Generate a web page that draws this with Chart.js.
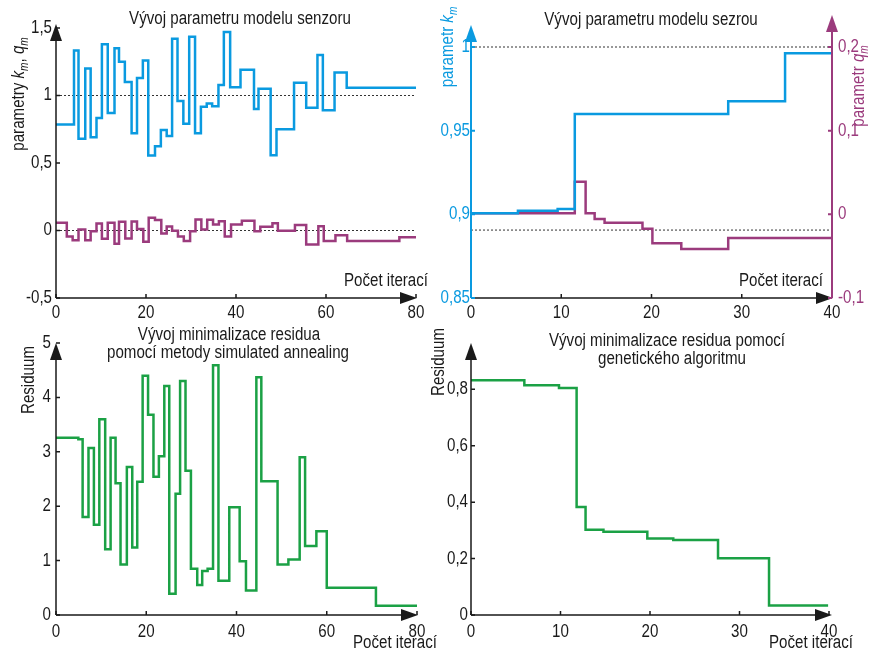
<!DOCTYPE html>
<html lang="cs">
<head>
<meta charset="UTF-8">
<title>Vývoj parametrů modelu a residua</title>
<script src="https://cdn.jsdelivr.net/npm/chart.js"></script>
<style>
  body { margin: 0; background: #fff; }
  .wrap { position: relative; width: 870px; height: 654px; }
  canvas { position: absolute; left: 0; top: 0; }
</style>
</head>
<body>
<div class="wrap">
  <canvas id="c1" width="870" height="654"></canvas>
  <canvas id="c2" width="870" height="654"></canvas>
  <canvas id="c3" width="870" height="654"></canvas>
  <canvas id="c4" width="870" height="654"></canvas>
</div>
<script>
// --- data (iteration where a step starts, value held until next) ---
const senzorKIter = [0, 4, 5, 6.5, 7.7, 9, 10.2, 11.5, 13, 14, 15.3, 16.8, 18, 19.3, 20.5, 22, 23.3, 24.6, 25.8, 27,
  28.3, 29.6, 30.9, 32.2, 33.5, 34.7, 36.1, 37.3, 38.7, 41, 44, 45, 47.7, 49, 52.9, 55.6, 58.1, 59.3, 61.9, 64.6, 80];
const senzorK = [0.785, 1.334, 0.68, 1.2, 0.69, 0.834, 1.38, 0.87, 1.35, 1.25, 1.1, 0.72, 1.13, 1.26, 0.555, 0.624, 0.745, 0.70, 1.42, 0.96,
  0.79, 1.435, 0.72, 0.916, 0.94, 0.92, 1.077, 1.47, 1.062, 1.19, 0.9, 1.05, 0.557, 0.75, 1.094, 0.91, 1.3, 0.89, 1.17, 1.057, 1.057];
const senzorQIter = [0, 2.4, 3.7, 5, 6.5, 7.7, 9, 10.2, 11.5, 13, 14, 15.4, 16.8, 18, 19.4, 20.6, 22, 23.4, 24.6, 25.8,
  27.1, 28.4, 29.8, 31, 32.3, 33.6, 34.9, 36.2, 37.5, 38.9, 41.3, 44.1, 45.4, 48.1, 49.3, 53.1, 55.6, 58.3, 59.5, 62.1, 64.7, 76.3, 80];
const senzorQ = [0.057, -0.045, -0.072, 0.007, -0.072, -0.005, 0.052, -0.062, 0.057, -0.099, 0.064, -0.06, 0.067, 0.012, -0.084, 0.094, 0.077, -0.022, 0.03, -0.002,
  -0.045, -0.077, -0.005, 0.082, 0.007, 0.079, 0.045, 0.069, -0.045, 0.045, 0.072, -0.005, 0.027, 0.054, -0.002, 0.04, -0.104, 0.032, -0.077, -0.035, -0.077, -0.05, -0.05];
const senzorRef = [1, 0];

const sezrouKIter = [0, 5.2, 9.6, 11.5, 28.5, 34.8, 40];
const sezrouK = [0.9006, 0.9022, 0.9032, 0.960, 0.9676, 0.9962, 0.9962];
const sezrouQIter = [0, 11.5, 12.7, 13.7, 14.8, 19, 20.1, 23.3, 28.5, 40];
const sezrouQ = [0.0012, 0.039, 0.0012, -0.0056, -0.010, -0.0172, -0.0346, -0.0414, -0.0283, -0.0283];
const sezrouRef = [1, 0.8906];

const saIter = [0, 4.95, 5.9, 7.2, 8.4, 9.6, 10.9, 12.1, 13.2, 14.3, 15.7, 16.9, 18.0, 19.2, 20.4, 21.6, 22.8, 24.0, 25.1, 26.5,
  27.5, 28.7, 29.9, 31.3, 32.4, 33.6, 34.8, 36.0, 38.4, 40.7, 42.1, 44.4, 45.5, 49.1, 51.5, 54.0, 55.2, 57.7, 60.0, 70.9, 80];
const saRes = [3.26, 3.23, 1.80, 3.07, 1.66, 3.60, 1.21, 3.26, 2.42, 0.93, 2.72, 1.24, 2.45, 4.40, 3.68, 2.54, 2.92, 4.21, 0.39, 2.23,
  4.30, 2.65, 0.85, 0.55, 0.81, 0.85, 4.59, 0.63, 1.98, 0.99, 0.45, 4.37, 2.46, 0.93, 1.02, 2.90, 1.27, 1.54, 0.50, 0.17, 0.17];

const gaIter = [0, 5.96, 9.83, 11.8, 12.8, 14.8, 19.7, 22.6, 27.6, 33.3, 39.9];
const gaRes = [0.832, 0.814, 0.805, 0.383, 0.302, 0.295, 0.271, 0.266, 0.201, 0.034, 0.034];

// tick values
const ticksX80 = [0, 20, 40, 60, 80];
const ticksX40 = [0, 10, 20, 30, 40];
const ticksSenzor = [-0.5, 0, 0.5, 1, 1.5];
const ticksSezrouK = [0.85, 0.9, 0.95, 1];
const ticksSezrouQ = [-0.1, 0, 0.1, 0.2];
const ticksSA = [0, 1, 2, 3, 4, 5];
const ticksGA = [0, 0.2, 0.4, 0.6, 0.8];

// --- styling ---
const W = 870, H = 654;
const FONT = '"Liberation Sans", Arial, sans-serif';
const INK = '#1a1a1a', BLUE = '#0a9ae0', MAGENTA = '#9b3b7d', GREEN = '#1ba145';
const FS = 18, NARROW = 0.84;

function steps(xs, ys) { return xs.map((x, i) => ({ x: x, y: ys[i] })); }
function flat(y, max) { return [{ x: 0, y: y }, { x: max, y: y }]; }
function comma(v) { return String(v).replace('.', ','); }
function fixTicks(list) { return s => { s.ticks = list.map(v => ({ value: v })); }; }

function line(data, color, axis) {
  return { data: data, borderColor: color, borderWidth: 2.5, stepped: true, pointRadius: 0, fill: false, yAxisID: axis || 'y' };
}
function dotted(data, axis) {
  return { data: data, borderColor: '#333', borderWidth: 1, borderDash: [2, 2], pointRadius: 0, fill: false, clip: false, yAxisID: axis || 'y' };
}

// tick labels are painted by the decor plugin (narrow lettering), so scales only place things
function xScale(max, ticks) {
  return {
    type: 'linear', min: 0, max: max, afterBuildTicks: fixTicks(ticks),
    grid: { display: false, drawTicks: false }, border: { display: false }, ticks: { display: false },
    afterFit: s => { s.height = 40; }
  };
}
function yScale(min, max, ticks, pos, width) {
  return {
    type: 'linear', position: pos, min: min, max: max, afterBuildTicks: fixTicks(ticks),
    grid: { display: false, drawTicks: false }, border: { display: false }, ticks: { display: false },
    afterFit: s => { s.width = width; }
  };
}

function arrow(ctx, x, y, dir) {
  ctx.beginPath();
  if (dir === 'up') { ctx.moveTo(x, y); ctx.lineTo(x - 6, y + 17); ctx.lineTo(x + 6, y + 17); }
  else { ctx.moveTo(x, y); ctx.lineTo(x - 17, y - 6); ctx.lineTo(x - 17, y + 6); }
  ctx.closePath();
  ctx.fill();
}

// text in narrow lettering, optional italic / subscript pieces, optional rotation
function drawRich(ctx, t) {
  const size = t.size || FS;
  const fontOf = p => (p.it ? 'italic ' : '') + Math.round(p.sub ? size * 0.65 : size) + 'px ' + FONT;
  const parts = t.parts || [{ t: t.text }];
  let w = 0;
  parts.forEach(p => { ctx.font = fontOf(p); w += ctx.measureText(p.t).width; });
  const align = t.align || 'center';
  let x = align === 'center' ? -w / 2 : (align === 'right' ? -w : 0);
  ctx.save();
  ctx.translate(t.x, t.y);
  if (t.rot) ctx.rotate(t.rot);
  ctx.scale(NARROW, 1);
  ctx.fillStyle = t.color || INK;
  ctx.textBaseline = 'middle';
  ctx.textAlign = 'left';
  parts.forEach(p => {
    ctx.font = fontOf(p);
    ctx.fillText(p.t, x, p.sub ? size * 0.3 : 0);
    x += ctx.measureText(p.t).width;
  });
  ctx.restore();
}

// axes with arrows, inward tick marks, tick labels and free texts
const decor = {
  id: 'decor',
  afterDraw(chart, args, o) {
    const ctx = chart.ctx, a = chart.chartArea;
    ctx.save();
    o.axes.forEach(ax => {
      const sc = chart.scales[ax.scale];
      const lc = ax.labelColor || INK;
      ctx.strokeStyle = ax.color; ctx.fillStyle = ax.color; ctx.lineWidth = ax.width || 1.5;
      ctx.beginPath();
      if (ax.scale === 'x') {
        ctx.moveTo(a.left, a.bottom); ctx.lineTo(ax.tip - 10, a.bottom);
        sc.ticks.forEach(t => { const p = sc.getPixelForValue(t.value); ctx.moveTo(p, a.bottom); ctx.lineTo(p, a.bottom - 4); });
        ctx.stroke();
        arrow(ctx, ax.tip, a.bottom, 'right');
        sc.ticks.forEach(t => drawRich(ctx, { text: comma(t.value), x: sc.getPixelForValue(t.value), y: a.bottom + ax.labelDy, color: lc }));
      } else {
        const right = ax.side === 'right';
        const x = right ? a.right : a.left;
        const d = right ? -4 : 4;
        ctx.moveTo(x, a.bottom); ctx.lineTo(x, ax.tip + 10);
        sc.ticks.forEach(t => { const p = sc.getPixelForValue(t.value); ctx.moveTo(x, p); ctx.lineTo(x + d, p); });
        ctx.stroke();
        arrow(ctx, x, ax.tip, 'up');
        sc.ticks.forEach(t => drawRich(ctx, {
          text: comma(t.value), x: right ? x + ax.pad : x - ax.pad, y: sc.getPixelForValue(t.value),
          align: right ? 'left' : 'right', color: lc
        }));
      }
    });
    o.texts.forEach(t => drawRich(ctx, t));
    ctx.restore();
  }
};

function makeChart(id, area, yW, rW, datasets, scales, deco) {
  return new Chart(document.getElementById(id), {
    type: 'line',
    data: { datasets: datasets },
    options: {
      responsive: false, animation: false, devicePixelRatio: 1,
      layout: { padding: { left: area.l - yW, top: area.t, right: W - area.r - rW, bottom: H - area.b - 40 } },
      plugins: { legend: { display: false }, tooltip: { enabled: false }, decor: deco },
      scales: scales
    },
    plugins: [decor]
  });
}

const UP = -Math.PI / 2;

// 1) Vývoj parametru modelu senzoru
makeChart('c1', { l: 56, t: 28, r: 416, b: 298 }, 50, 0,
  [line(steps(senzorKIter, senzorK), BLUE), line(steps(senzorQIter, senzorQ), MAGENTA),
   dotted(flat(senzorRef[0], 80)), dotted(flat(senzorRef[1], 80))],
  { x: xScale(80, ticksX80), y: yScale(-0.5, 1.5, ticksSenzor, 'left', 50) },
  {
    axes: [{ scale: 'x', tip: 417, color: INK, labelDy: 15 }, { scale: 'y', tip: 24, color: INK, pad: 4 }],
    texts: [
      { text: 'Vývoj parametru modelu senzoru', x: 240, y: 19 },
      { parts: [{ t: 'parametry ' }, { t: 'k', it: true }, { t: 'm', sub: true, it: true }, { t: ', ' }, { t: 'q', it: true }, { t: 'm', sub: true, it: true }], x: 19, y: 94, rot: UP },
      { text: 'Počet iterací', x: 386, y: 281 }
    ]
  });

// 2) Vývoj parametru modelu sezrou
makeChart('c2', { l: 471, t: 47, r: 832, b: 298 }, 50, 40,
  [line(steps(sezrouKIter, sezrouK), BLUE, 'y'), line(steps(sezrouQIter, sezrouQ), MAGENTA, 'y2'),
   dotted(flat(sezrouRef[0], 40)), dotted(flat(sezrouRef[1], 40))],
  {
    x: xScale(40, ticksX40),
    y: yScale(0.85, 1, ticksSezrouK, 'left', 50),
    y2: yScale(-0.1, 0.2, ticksSezrouQ, 'right', 40)
  },
  {
    axes: [{ scale: 'x', tip: 833, color: INK, labelDy: 15 },
           { scale: 'y', tip: 25, color: BLUE, width: 2, pad: 1, labelColor: BLUE },
           { scale: 'y2', side: 'right', tip: 15, color: MAGENTA, width: 2, pad: 6, labelColor: MAGENTA }],
    texts: [
      { text: 'Vývoj parametru modelu sezrou', x: 651, y: 20 },
      { parts: [{ t: 'parametr ' }, { t: 'k', it: true }, { t: 'm', sub: true, it: true }], x: 448, y: 47, rot: UP, color: BLUE },
      { parts: [{ t: 'parametr ' }, { t: 'q', it: true }, { t: 'm', sub: true, it: true }], x: 859, y: 86, rot: UP, color: MAGENTA },
      { text: 'Počet iterací', x: 781, y: 281 }
    ]
  });

// 3) simulated annealing
makeChart('c3', { l: 56, t: 343, r: 417, b: 615 }, 50, 0,
  [line(steps(saIter, saRes), GREEN)],
  { x: xScale(80, ticksX80), y: yScale(0, 5, ticksSA, 'left', 50) },
  {
    axes: [{ scale: 'x', tip: 418, color: INK, labelDy: 17 }, { scale: 'y', tip: 343, color: INK, pad: 5 }],
    texts: [
      { text: 'Vývoj minimalizace residua', x: 229, y: 335 },
      { text: 'pomocí metody simulated annealing', x: 228, y: 353 },
      { text: 'Residuum', x: 29, y: 380, rot: UP },
      { text: 'Počet iterací', x: 395, y: 643 }
    ]
  });

// 4) genetický algoritmus
makeChart('c4', { l: 471, t: 347, r: 829, b: 615 }, 50, 0,
  [line(steps(gaIter, gaRes), GREEN)],
  { x: xScale(40, ticksX40), y: yScale(0, 0.95, ticksGA, 'left', 50) },
  {
    axes: [{ scale: 'x', tip: 832, color: INK, labelDy: 17 }, { scale: 'y', tip: 343, color: INK, pad: 3 }],
    texts: [
      { text: 'Vývoj minimalizace residua pomocí', x: 667, y: 341 },
      { text: 'genetického algoritmu', x: 672, y: 359 },
      { text: 'Residuum', x: 439, y: 362, rot: UP },
      { text: 'Počet iterací', x: 811, y: 643 }
    ]
  });
</script>
</body>
</html>
